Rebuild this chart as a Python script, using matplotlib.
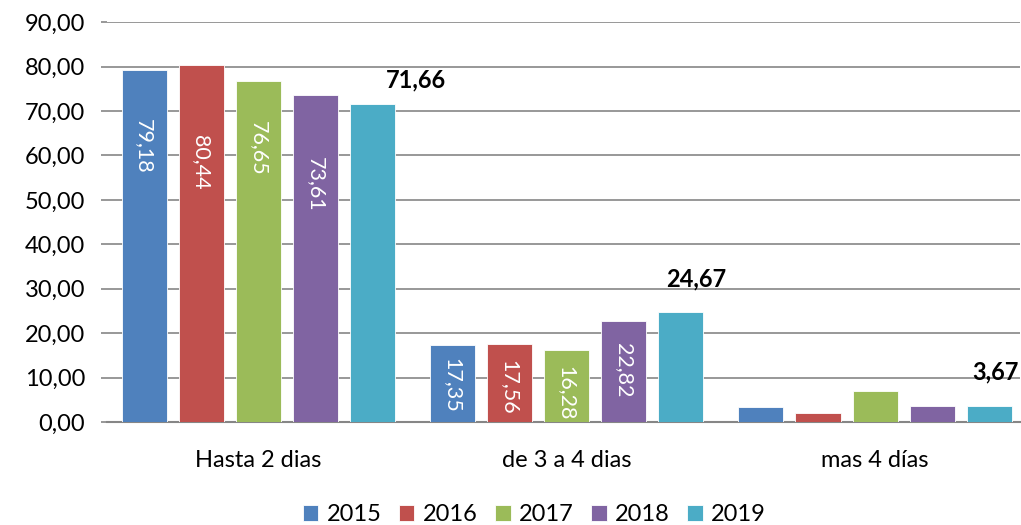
import matplotlib.pyplot as plt
import numpy as np

categories = ['Hasta 2 dias', 'de 3 a 4 dias', 'mas 4 días']
years = ['2015', '2016', '2017', '2018', '2019']
values = {
    '2015': [79.18, 17.35, 3.45],
    '2016': [80.44, 17.56, 2.00],
    '2017': [76.65, 16.28, 7.05],
    '2018': [73.61, 22.82, 3.55],
    '2019': [71.66, 24.67, 3.67],
}
colors = ['#4F81BD', '#C0504D', '#9BBB59', '#8064A2', '#4BACC6']
# where the white labels sit inside the bars (centre, data units)
inner_label_y = {
    '2015': [62.1, 8.3],
    '2016': [58.5, 7.9],
    '2017': [61.7, 6.5],
    '2018': [53.6, 11.7],
}
# shift of the bold 2019 labels (x in group units, y in data units)
top_label_dx = [0.14, 0.05, 0.02]
top_label_dy = [5.4, 7.6, 7.6]

def fmt(v):
    return ('%.2f' % v).replace('.', ',')

plt.rcParams['font.family'] = ['Lato', 'DejaVu Sans']
fig = plt.figure(figsize=(10.21, 5.25), dpi=100)
ax = fig.add_axes([0.105, 0.196, 0.894, 0.762])

ind = np.arange(len(categories))
width = 0.146
step = 0.185
for i, y in enumerate(years):
    ax.bar(ind + (i - 2) * step, values[y], width, color=colors[i],
           edgecolor='white', linewidth=0.6, zorder=3, label=y)

for i, y in enumerate(years[:4]):
    for j, pos in enumerate(inner_label_y[y]):
        ax.text(ind[j] + (i - 2) * step, pos, fmt(values[y][j]), rotation=270,
                ha='center', va='center', color='white', fontsize=15.5, zorder=4)

for j, v in enumerate(values['2019']):
    ax.text(ind[j] + 2 * step + top_label_dx[j], v + top_label_dy[j],
            fmt(v), ha='center', va='center', fontsize=17, fontweight='bold', zorder=4)

ax.set_xlim(-0.49, 2.47)
ax.set_ylim(0, 90)
ax.set_yticks(np.arange(0, 91, 10))
ax.set_yticklabels([fmt(t) for t in np.arange(0, 91, 10)], fontsize=17)
ax.set_xticks(ind)
ax.set_xticklabels(categories, fontsize=17)
ax.tick_params(axis='x', length=0, pad=20)
ax.tick_params(axis='y', length=4, color='#868686', width=1.2, pad=12)
ax.yaxis.grid(True, color='#868686', linewidth=1.2, zorder=0)
for s in ['top', 'right', 'left']:
    ax.spines[s].set_visible(False)
ax.spines['bottom'].set_color('#868686')
ax.spines['bottom'].set_linewidth(1.5)

ax.legend(loc='center', bbox_to_anchor=(0.468, -0.232), ncol=5, frameon=False,
          fontsize=17, handlelength=0.65, handleheight=0.65, columnspacing=0.75,
          handletextpad=0.35)

fig.savefig('out.png', dpi=100)
